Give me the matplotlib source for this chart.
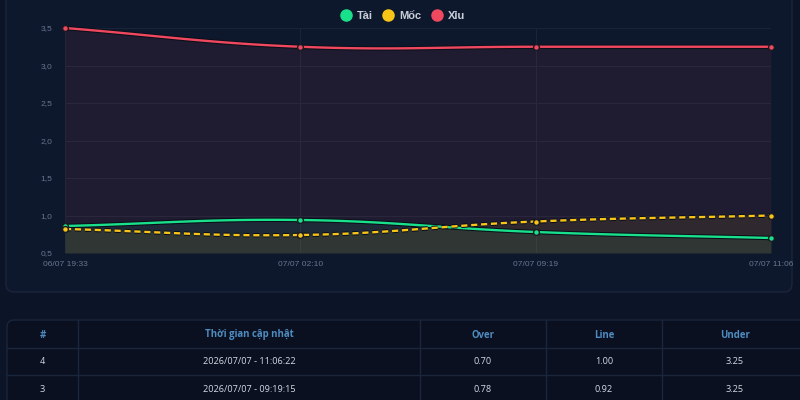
import numpy as np
import matplotlib
matplotlib.use('Agg')
import matplotlib.pyplot as plt
import matplotlib.patheffects as pe
from matplotlib.patches import FancyBboxPatch
from matplotlib.lines import Line2D

# data
x_labels = ['06/07 19:33', '07/07 02:10', '07/07 09:19', '07/07 11:06']
tai = [0.86, 0.94, 0.78, 0.70]
moc = [0.82, 0.74, 0.92, 1.00]
xiu = [3.50, 3.25, 3.25, 3.25]
series_names = ['Tài', 'Mốc', 'Xỉu']

table_cols = ['#', 'Thời gian cập nhật', 'Over', 'Line', 'Under']
table_ids = [4, 3]
table_times = ['2026/07/07 - 11:06:22', '2026/07/07 - 09:19:15']
table_over = [0.70, 0.78]
table_line = [1.00, 0.92]
table_under = [3.25, 3.25]

GREEN = '#19e08a'
YELLOW = '#f7c417'
RED = '#f0485f'
PAGE_BG = '#0c1427'
CARD_BG = '#0e182d'
TABLE_BG = '#0a1020'
AXIS_TXT = '#65758f'
HEAD_TXT = '#4f8cc0'
CELL_TXT = '#d3d9e3'
BORDER = '#1a263c'

# plot area in pixels
PX_L, PX_R, PX_T, PX_B = 65, 771, 28, 253
YMIN, YMAX = 0.5, 3.5


def smooth(values, tension=0.4, n=40):
    # chart.js style bezier through points, computed in pixel space
    xs = np.arange(len(values)) * (PX_R - PX_L) / (len(values) - 1)
    ys = (np.array(values) - YMIN) * (PX_B - PX_T) / (YMAX - YMIN)
    pts = np.column_stack([xs, ys])
    cp_prev, cp_next = [], []
    for i in range(len(pts)):
        prev = pts[max(i - 1, 0)]
        cur = pts[i]
        nxt = pts[min(i + 1, len(pts) - 1)]
        d01 = np.hypot(*(cur - prev))
        d12 = np.hypot(*(nxt - cur))
        tot = d01 + d12
        s01 = d01 / tot if tot else 0
        s12 = d12 / tot if tot else 0
        cp_prev.append(cur - tension * s01 * (nxt - prev))
        cp_next.append(cur + tension * s12 * (nxt - prev))
    out = []
    t = np.linspace(0, 1, n)[:, None]
    for i in range(len(pts) - 1):
        p0, p1, p2, p3 = pts[i], cp_next[i], cp_prev[i + 1], pts[i + 1]
        seg = (1 - t) ** 3 * p0 + 3 * (1 - t) ** 2 * t * p1 + 3 * (1 - t) * t ** 2 * p2 + t ** 3 * p3
        out.append(seg if i == 0 else seg[1:])
    out = np.vstack(out)
    xd = out[:, 0] / (PX_R - PX_L) * (len(values) - 1)
    yd = out[:, 1] / (PX_B - PX_T) * (YMAX - YMIN) + YMIN
    return xd, yd


fig = plt.figure(figsize=(8, 4), dpi=100, facecolor=PAGE_BG)

# background layer in pixel coords
bg = fig.add_axes([0, 0, 1, 1])
bg.set_xlim(0, 800)
bg.set_ylim(400, 0)
bg.axis('off')
bg.add_patch(FancyBboxPatch((6, -20), 786, 312, boxstyle='round,pad=0,rounding_size=8',
                            facecolor=CARD_BG, edgecolor=BORDER, lw=1))

# table
bg.add_patch(FancyBboxPatch((7, 320), 820, 110, boxstyle='round,pad=0,rounding_size=7',
                            facecolor=TABLE_BG, edgecolor=BORDER, lw=1))
col_edges = [7, 78, 420, 546, 662, 808]
for xe in col_edges[1:-1]:
    bg.plot([xe, xe], [320, 400], color=BORDER, lw=1)
for ye in [348, 375]:
    bg.plot([7, 800], [ye, ye], color=BORDER, lw=1)
col_centers = [(a + b) / 2 for a, b in zip(col_edges[:-1], col_edges[1:])]
for cx, name in zip(col_centers, table_cols):
    bg.text(cx, 335, name, color=HEAD_TXT, fontsize=6.9, fontweight='bold',
            family='Open Sans', ha='center', va='center')
for r, (rid, tm, ov, ln, un) in enumerate(zip(table_ids, table_times, table_over, table_line, table_under)):
    y = 362 + r * 27
    cells = [str(rid), tm, f'{ov:.2f}', f'{ln:.2f}', f'{un:.2f}']
    for cx, txt in zip(col_centers, cells):
        bg.text(cx, y, txt, color=CELL_TXT, fontsize=6.6, family='Open Sans',
                ha='center', va='center')

# chart
ax = fig.add_axes([PX_L / 800, 1 - PX_B / 400, (PX_R - PX_L) / 800, (PX_B - PX_T) / 400])
ax.set_facecolor(CARD_BG)
ax.set_xlim(0, len(x_labels) - 1)
ax.set_ylim(YMIN, YMAX)
xi = np.arange(len(x_labels))

stroke = [pe.Stroke(linewidth=3.2, foreground='#0a0f1a'), pe.Normal()]
for vals, col, ls in [(xiu, RED, '-'), (tai, GREEN, '-'), (moc, YELLOW, (0, (2.6, 1.6)))]:
    sx, sy = smooth(vals)
    ax.fill_between(sx, YMIN, sy, color=col, alpha=0.08, lw=0, zorder=1)
    ax.plot(sx, sy, color=col, lw=1.7, ls=ls, path_effects=stroke, zorder=3, clip_on=False)
    ax.plot(xi, vals, 'o', ms=4.2, mfc=col, mec='#1a1a22', mew=1.0, zorder=4, clip_on=False)

yt = np.arange(0.5, 3.51, 0.5)
ax.set_yticks(yt)
ax.set_yticklabels([f'{v:.1f}'.replace('.', ',') for v in yt])
ax.set_xticks(xi)
ax.set_xticklabels(x_labels)
ax.grid(True, color='#1a2439', lw=0.8)
ax.set_axisbelow(True)
for s in ax.spines.values():
    s.set_visible(False)
ax.tick_params(length=0, colors=AXIS_TXT, labelsize=6.1, pad=6)
for lab in ax.get_xticklabels() + ax.get_yticklabels():
    lab.set_family('Liberation Sans')
ax.tick_params(axis='y', pad=9)

handles = [Line2D([], [], marker='o', ls='none', ms=8, mfc=c, mec=c)
           for c in [GREEN, YELLOW, RED]]
leg = fig.legend(handles, series_names, loc='center', bbox_to_anchor=(0.5, 1 - 16 / 400),
                 ncol=3, frameon=False, handletextpad=0.0, columnspacing=0.4,
                 prop={'family': 'Liberation Sans', 'weight': 'bold', 'size': 8})
for t in leg.get_texts():
    t.set_color('#c8ced8')

fig.savefig('out.png', dpi=100, facecolor=PAGE_BG)
